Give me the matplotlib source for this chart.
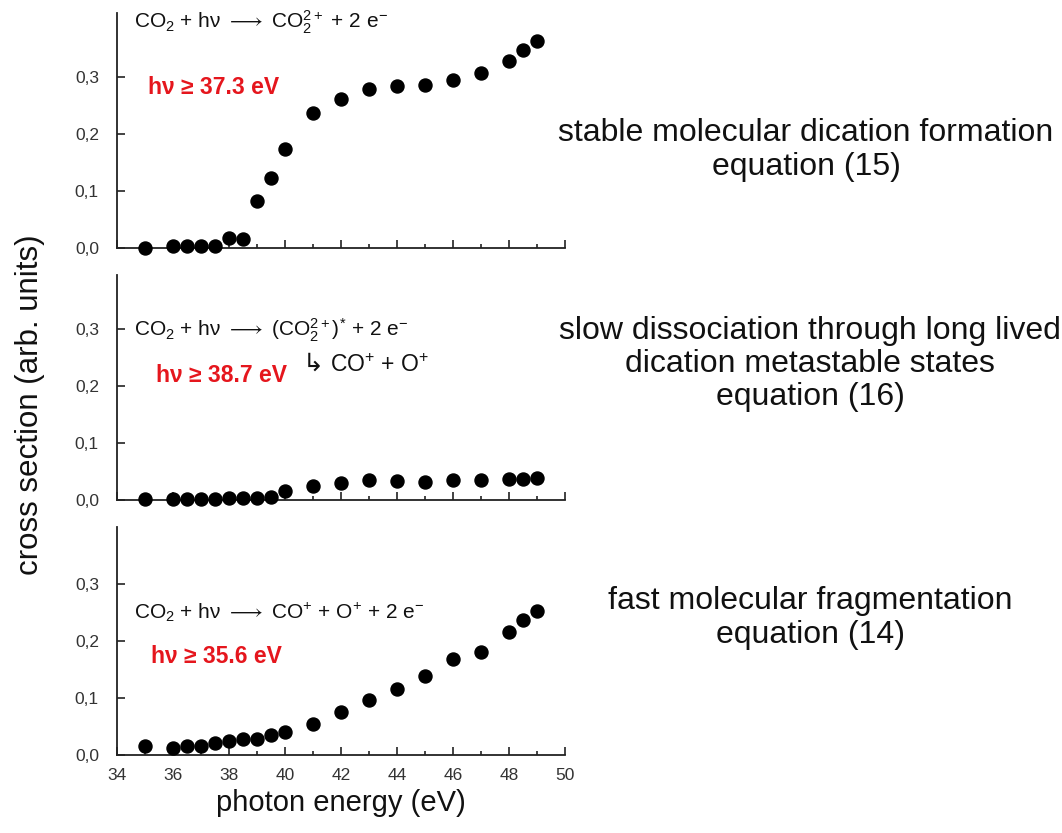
import matplotlib
matplotlib.use("Agg")
import matplotlib.pyplot as plt
from matplotlib.ticker import MultipleLocator, FixedLocator, FuncFormatter

plt.rcParams['font.family'] = ['Liberation Sans', 'DejaVu Sans']
plt.rcParams['mathtext.fontset'] = 'custom'
plt.rcParams['mathtext.rm'] = 'Liberation Sans'
plt.rcParams['mathtext.it'] = 'Liberation Sans:italic'
plt.rcParams['mathtext.bf'] = 'Liberation Sans:bold'
plt.rcParams['mathtext.fallback'] = 'stixsans'

# photon energies (eV)
energy = [35, 36, 36.5, 37, 37.5, 38, 38.5, 39, 39.5, 40,
          41, 42, 43, 44, 45, 46, 47, 48, 48.5, 49]

# stable molecular dication, eq. (15)
stable = [0.000, 0.003, 0.003, 0.003, 0.003, 0.018, 0.015, 0.082, 0.122, 0.174,
          0.237, 0.262, 0.278, 0.284, 0.285, 0.295, 0.306, 0.328, 0.348, 0.363]

# slow dissociation, eq. (16)
slow = [0.001, 0.002, 0.001, 0.001, 0.001, 0.003, 0.003, 0.003, 0.006, 0.015,
        0.024, 0.030, 0.035, 0.033, 0.032, 0.035, 0.035, 0.036, 0.037, 0.039]

# fast fragmentation, eq. (14)
fast = [0.015, 0.013, 0.016, 0.016, 0.021, 0.024, 0.028, 0.028, 0.035, 0.041,
        0.055, 0.075, 0.096, 0.115, 0.138, 0.168, 0.181, 0.216, 0.236, 0.252]

yticks = [0.0, 0.1, 0.2, 0.3]

reactions = [r'CO$_2$ + hν $\longrightarrow$ CO$_2^{2+}$ + 2 e$^{-}$',
             r'CO$_2$ + hν $\longrightarrow$ (CO$_2^{2+}$)$^{*}$ + 2 e$^{-}$',
             r'CO$_2$ + hν $\longrightarrow$ CO$^{+}$ + O$^{+}$ + 2 e$^{-}$']
thresholds = ['hν ≥ 37.3 eV', 'hν ≥ 38.7 eV', 'hν ≥ 35.6 eV']
descriptions = ['stable molecular dication formation\nequation (15)',
                'slow dissociation through long lived\ndication metastable states\nequation (16)',
                'fast molecular fragmentation\nequation (14)']

W, H = 1062, 833
fig = plt.figure(figsize=(W / 100, H / 100), dpi=100)

# panel boxes in pixels: (top, bottom, ymax)
boxes = [(13, 248, 0.412), (275, 500, 0.395), (527, 755, 0.40)]
x0, x1 = 117, 565

comma = FuncFormatter(lambda v, p: f'{v:.1f}'.replace('.', ','))

axes = []
for i, (top, bot, ymax) in enumerate(boxes):
    ax = fig.add_axes([x0 / W, 1 - bot / H, (x1 - x0) / W, (bot - top) / H])
    ax.set_xlim(34, 50)
    ax.set_ylim(0, ymax)
    for s in ['top', 'right']:
        ax.spines[s].set_visible(False)
    for s in ['left', 'bottom']:
        ax.spines[s].set_linewidth(1.3)
        ax.spines[s].set_color('#222222')
    ax.xaxis.set_major_locator(MultipleLocator(2))
    ax.xaxis.set_minor_locator(MultipleLocator(1))
    ax.yaxis.set_major_locator(FixedLocator(yticks))
    ax.yaxis.set_major_formatter(comma)
    ax.tick_params(direction='in', length=6, width=1.2, colors='#222222',
                   labelsize=12.5, labelcolor='#333333')
    ax.tick_params(which='minor', direction='in', length=3, width=1.2, colors='#222222')
    ax.tick_params(axis='y', pad=13)
    ax.tick_params(axis='x', pad=9)
    if i < 2:
        ax.tick_params(axis='x', labelbottom=False)
    axes.append(ax)

series = [stable, slow, fast]
for ax, ys in zip(axes, series):
    ax.scatter(energy, ys, s=88, color='black', zorder=3, clip_on=False)

red = '#e5161d'
eq_fs = 15
red_fs = 16.5
# top panel annotations
axes[0].text(34.6, 0.396, reactions[0], fontsize=eq_fs, va='center', color='#111111')
axes[0].text(35.1, 0.281, thresholds[0], fontsize=red_fs, va='center', color=red, fontweight='bold')
# middle panel
axes[1].text(34.6, 0.298, reactions[1], fontsize=eq_fs, va='center', color='#111111')
axes[1].text(40.65, 0.240, '↳', fontsize=eq_fs + 3, va='center', color='#111111', family='DejaVu Sans')
axes[1].text(41.6, 0.237, r'CO$^{+}$ + O$^{+}$', fontsize=eq_fs + 1.5, va='center', color='#111111')
axes[1].text(35.4, 0.219, thresholds[1], fontsize=red_fs, va='center', color=red, fontweight='bold')
# bottom panel
axes[2].text(34.6, 0.250, reactions[2], fontsize=eq_fs, va='center', color='#111111')
axes[2].text(35.2, 0.172, thresholds[2], fontsize=red_fs, va='center', color=red, fontweight='bold')

# descriptions on the right
desc_pos = [(806, 150), (810, 364), (810, 618)]
for (px, py), txt in zip(desc_pos, descriptions):
    fig.text(px / W, 1 - py / H, txt, fontsize=23, ha='center', va='center',
             color='#111111', linespacing=1.15)

fig.text(30 / W, 1 - 405 / H, 'cross section (arb. units)', rotation=90,
         fontsize=22.5, ha='center', va='center', color='#111111')
fig.text(341 / W, 1 - 803 / H, 'photon energy (eV)', fontsize=21,
         ha='center', va='center', color='#111111')

fig.savefig('out.png', dpi=100)
